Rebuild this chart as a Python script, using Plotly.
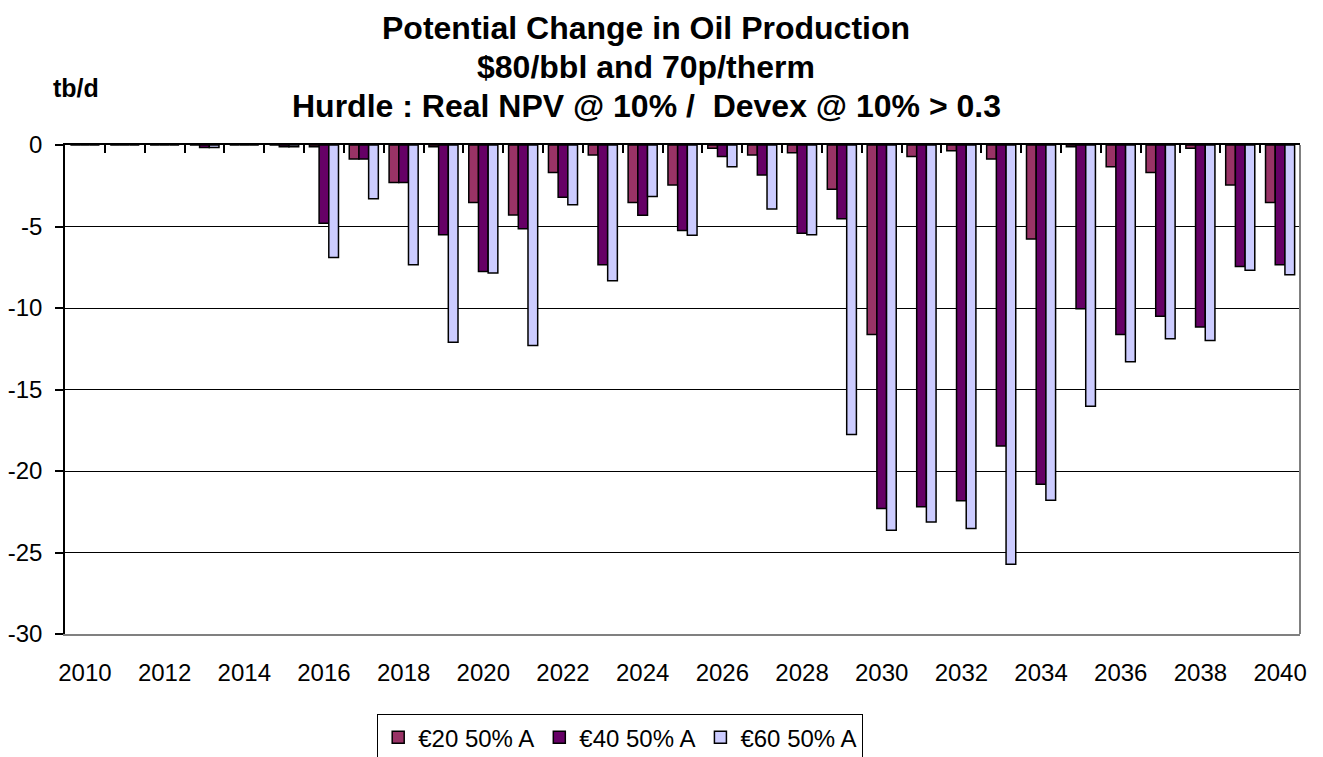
import plotly.graph_objects as go

years = list(range(2010, 2041))
e20 = [0, 0, 0, 0, 0, 0, -0.1, -0.86, -2.3, -0.1, -3.53, -4.29, -1.69, -0.61, -3.53, -2.45,
       -0.2, -0.61, -0.47, -2.71, -11.63, -0.71, -0.35, -0.86, -5.76, -0.1, -1.33, -1.69,
       -0.2, -2.45, -3.53]
e40 = [0, 0, 0, -0.15, 0, -0.1, -4.8, -0.86, -2.3, -5.5, -7.76, -5.14, -3.2, -7.35, -4.31,
       -5.24, -0.71, -1.84, -5.41, -4.53, -22.3, -22.19, -21.82, -18.47, -20.82, -10.04,
       -11.63, -10.5, -11.16, -7.45, -7.35]
e60 = [0, 0, 0, -0.15, 0, -0.1, -6.9, -3.3, -7.35, -12.1, -7.86, -12.3, -3.67, -8.33, -3.16,
       -5.53, -1.33, -3.92, -5.51, -17.76, -23.64, -23.13, -23.53, -25.72, -21.8, -16.02,
       -13.3, -11.88, -12.0, -7.69, -7.96]
series_names = ["€20 50% A", "€40 50% A", "€60 50% A"]
series_colors = ["#993366", "#660066", "#CCCCFF"]
label_years = years[::2]
y_ticks = [0, -5, -10, -15, -20, -25, -30]

title_lines = ["Potential Change in Oil Production", "$80/bbl and 70p/therm",
               "Hurdle : Real NPV @ 10% /  Devex @ 10% > 0.3"]

FONT = "Liberation Sans, Arial, sans-serif"
OFF = 8  # default page body margin
W, H = 1323 - OFF, 757 - OFF
ML, MR, MT, MB = 65 - OFF, 23, 145 - OFF, 123
PW, PH = W - ML - MR, H - MT - MB

fig = go.Figure()
for name, vals, col in zip(series_names, [e20, e40, e60], series_colors):
    fig.add_trace(go.Bar(x=years, y=vals, name=name,
                         marker=dict(color=col, line=dict(color="black", width=1.5))))

# invisible helper trace for the top tick axis
fig.add_trace(go.Scatter(x=[years[0]], y=[0], xaxis="x2", mode="markers",
                         marker=dict(opacity=0), showlegend=False, hoverinfo="skip"))

boundaries = [y - 0.5 for y in years] + [years[-1] + 0.5]


def px_x(p):
    return (p - OFF - ML) / PW


def px_y(p):
    return (H - MB - (p - OFF)) / PH


annotations = []
for line, py in zip(title_lines, [28, 67, 106]):
    annotations.append(dict(text="<b>%s</b>" % line, xref="paper", yref="paper",
                            x=px_x(646), y=px_y(py), xanchor="center", yanchor="middle",
                            showarrow=False, font=dict(family=FONT, size=32, color="black")))
annotations.append(dict(text="<b>tb/d</b>", xref="paper", yref="paper", x=px_x(76), y=px_y(88),
                        xanchor="center", yanchor="middle", showarrow=False,
                        font=dict(family=FONT, size=25, color="black")))

fig.update_layout(
    width=W, height=H,
    margin=dict(l=ML, r=MR, t=MT, b=MB, autoexpand=False),
    paper_bgcolor="white", plot_bgcolor="white",
    barmode="group", bargap=0.27, bargroupgap=0,
    font=dict(family=FONT, size=24, color="black"),
    xaxis=dict(range=[years[0] - 0.5, years[-1] + 0.5], tickmode="array",
               tickvals=label_years, ticktext=[str(y) for y in label_years],
               showgrid=False, zeroline=False, showline=True, linecolor="#808080", linewidth=2,
               ticks="", ticklabelstandoff=16, tickfont=dict(size=24), automargin=False),
    xaxis2=dict(range=[years[0] - 0.5, years[-1] + 0.5], overlaying="x", side="top",
                tickmode="array", tickvals=boundaries, ticks="inside", ticklen=8, tickwidth=1.5,
                tickcolor="black", showticklabels=False, showgrid=False, zeroline=False,
                showline=True, linecolor="black", linewidth=2, automargin=False),
    yaxis=dict(range=[-30, 0], tickmode="array", tickvals=y_ticks,
               ticktext=[str(v) for v in y_ticks],
               showgrid=True, gridcolor="black", gridwidth=1.3, zeroline=False,
               showline=True, linecolor="black", linewidth=1.5, ticks="outside", ticklen=8,
               tickwidth=1.5, tickcolor="black", tickfont=dict(size=24),
               ticklabelstandoff=8, automargin=False),
    legend=dict(orientation="h", x=px_x(620), xanchor="center", y=px_y(714), yanchor="top",
                bordercolor="black", borderwidth=1.2, font=dict(family=FONT, size=24),
                traceorder="normal", itemwidth=30),
    annotations=annotations,
    shapes=[dict(type="line", xref="paper", yref="paper", x0=1, x1=1, y0=0, y1=1,
                 line=dict(color="#808080", width=2))],
    showlegend=True,
)
fig.write_html("out.html")
